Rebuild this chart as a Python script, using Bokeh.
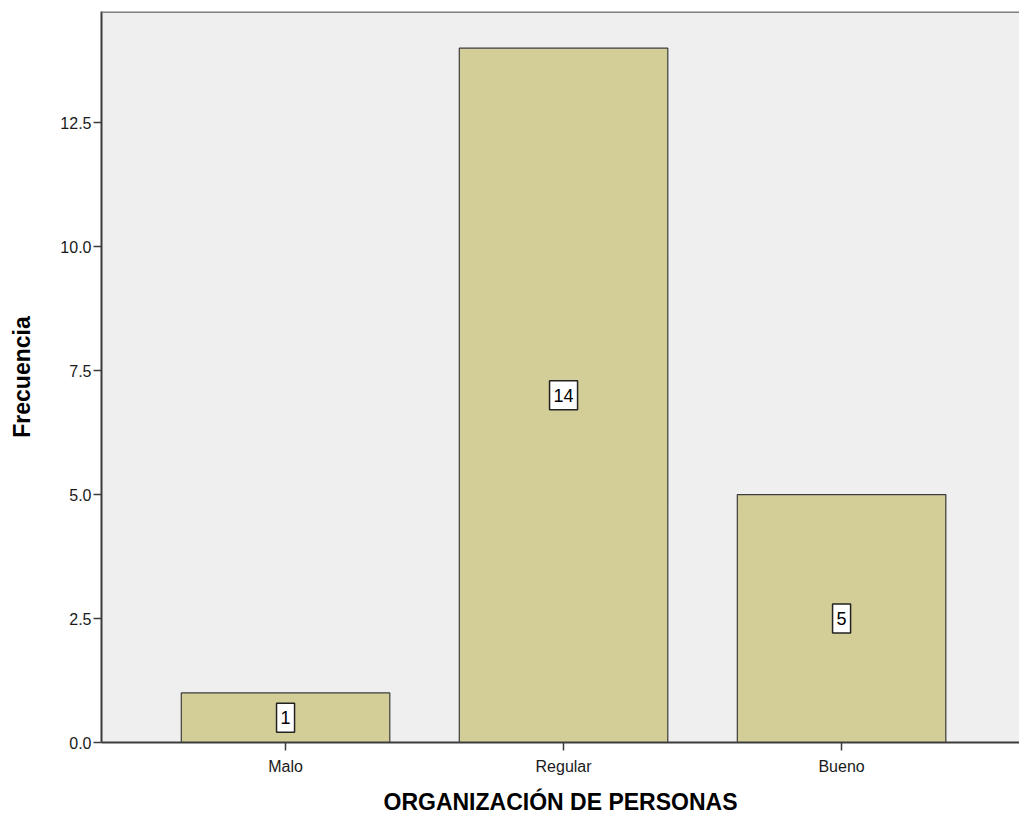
from bokeh.plotting import figure
from bokeh.models import FixedTicker, NumeralTickFormatter, Span, Range1d, ColumnDataSource
from bokeh.core.properties import value
from bokeh.embed import file_html
from bokeh.resources import INLINE

categories = ["Malo", "Regular", "Bueno"]
frequencies = [1, 14, 5]
y_ticks = [0, 2.5, 5, 7.5, 10, 12.5]

positions = list(range(len(categories)))

p = figure(width=1019, height=818, output_backend="svg", toolbar_location=None,
           x_range=Range1d(-0.662, 2.64), y_range=Range1d(0, 14.74),
           min_border_left=101, min_border_right=0, min_border_top=11, min_border_bottom=76)
p.background_fill_color = "#EFEFEF"
p.border_fill_color = "white"
p.outline_line_color = None
p.xgrid.visible = False
p.ygrid.visible = False

p.vbar(x=positions, top=frequencies, width=0.75, bottom=0,
       fill_color="#D3CE97", line_color="#3C3C3C", line_width=1.2)

lbl = ColumnDataSource(dict(
    x=positions,
    y=[f / 2 for f in frequencies],
    text=[str(f) for f in frequencies],
    w=[len(str(f)) * 10 + 8 for f in frequencies],
))
p.rect(x="x", y="y", width="w", height=29, width_units="screen", height_units="screen",
       source=lbl, fill_color="white", line_color="#222222", line_width=1.5)
p.text(x="x", y="y", text="text", source=lbl, text_align="center", text_baseline="middle",
       text_font=value("Liberation Sans"), text_font_size="18px", text_color="black")

p.add_layout(Span(location=14.74, dimension="width", line_color="#808080", line_width=3))

xa = p.xaxis[0]
xa.ticker = FixedTicker(ticks=positions)
xa.major_label_overrides = {i: c for i, c in zip(positions, categories)}
xa.axis_label = "ORGANIZACIÓN DE PERSONAS"
ya = p.yaxis[0]
ya.ticker = FixedTicker(ticks=y_ticks)
ya.formatter = NumeralTickFormatter(format="0.0")
ya.axis_label = "Frecuencia"

for ax in (xa, ya):
    ax.axis_line_color = "#3C3C3C"
    ax.axis_line_width = 2
    ax.major_tick_line_color = "#3C3C3C"
    ax.major_tick_line_width = 1.5
    ax.major_tick_out = 8
    ax.major_tick_in = 0
    ax.minor_tick_line_color = None
    ax.major_label_text_font = "Liberation Sans"
    ax.major_label_text_font_size = "16px"
    ax.major_label_text_color = "#1a1a1a"
    ax.axis_label_text_font = "Liberation Sans"
    ax.axis_label_text_font_style = "bold"
    ax.axis_label_text_font_size = "23px"
    ax.axis_label_text_color = "black"

ya.major_label_standoff = 2
ya.axis_label_standoff = 22
xa.major_label_standoff = 7
xa.axis_label_standoff = 11

open("out.html", "w").write(file_html(p, INLINE))
